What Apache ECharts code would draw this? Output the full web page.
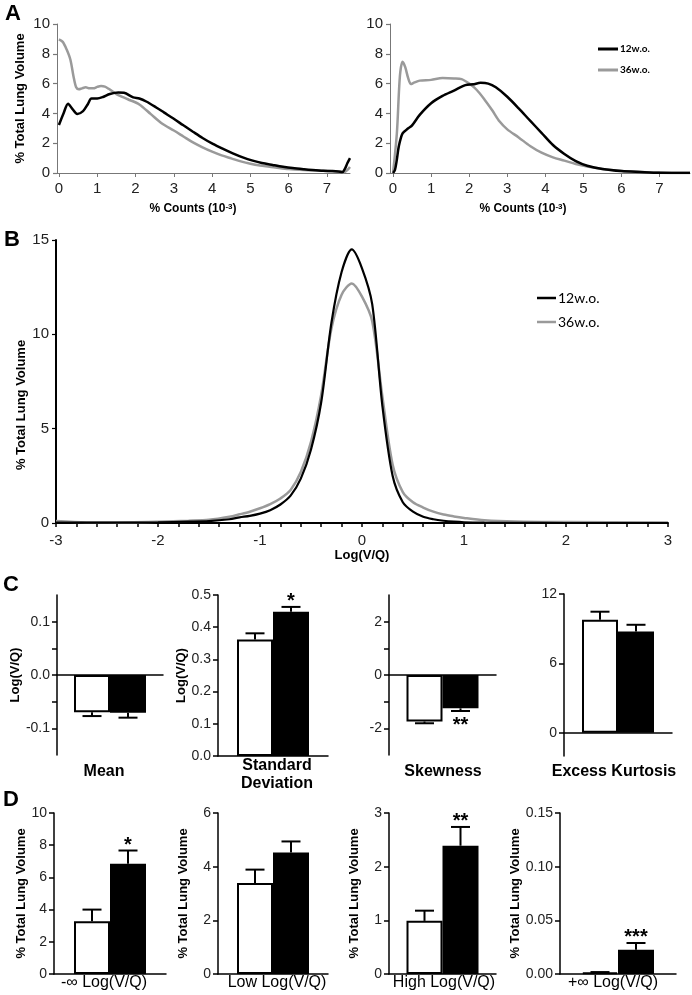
<!DOCTYPE html>
<html>
<head>
<meta charset="utf-8">
<script src="https://cdn.jsdelivr.net/npm/echarts@6/dist/echarts.min.js"></script>
<style>
  html, body { margin: 0; padding: 0; background: #fff; }
  #chart { width: 692px; height: 995px; }
</style>
</head>
<body>
<div id="chart"></div>
<script>
// ---------------- data ----------------
const groups = ['12w.o.', '36w.o.'];

// A left: % lung volume vs % counts
const aLeftX12 = [0, 0.12, 0.24, 0.35, 0.48, 0.63, 0.75, 0.85, 1.0, 1.15, 1.33, 1.55, 1.7, 1.94, 2.1, 2.28, 2.54, 2.75, 2.98, 3.25, 3.5, 3.75, 4.02, 4.3, 4.54, 4.8, 5.06, 5.3, 5.58, 5.85, 6.1, 6.4, 6.62, 6.9, 7.14, 7.3, 7.4, 7.47, 7.53, 7.6];
const aLeftY12 = [3.22, 4.0, 4.65, 4.3, 3.96, 4.15, 4.6, 5.0, 5.0, 5.1, 5.3, 5.4, 5.38, 5.08, 5.0, 4.8, 4.4, 4.05, 3.67, 3.2, 2.77, 2.35, 1.95, 1.6, 1.32, 1.05, 0.83, 0.67, 0.54, 0.42, 0.33, 0.25, 0.2, 0.15, 0.13, 0.1, 0.06, 0.3, 0.65, 1.0];
const aLeftX36 = [0, 0.1, 0.2, 0.3, 0.38, 0.45, 0.52, 0.6, 0.7, 0.8, 0.9, 1.0, 1.1, 1.2, 1.3, 1.5, 1.8, 2.1, 2.4, 2.7, 3.0, 3.25, 3.5, 3.75, 4.0, 4.25, 4.5, 4.75, 5.0, 5.25, 5.5, 5.75, 6.0, 6.5, 7.0, 7.35, 7.45, 7.55, 7.6];
const aLeftY36 = [8.97, 8.8, 8.3, 7.6, 6.5, 5.75, 5.62, 5.68, 5.75, 5.68, 5.68, 5.78, 5.84, 5.8, 5.65, 5.3, 4.95, 4.6, 3.95, 3.3, 2.85, 2.45, 2.05, 1.72, 1.43, 1.18, 0.98, 0.78, 0.62, 0.5, 0.42, 0.33, 0.26, 0.19, 0.13, 0.08, 0.05, 0.25, 0.4];

// A right
const aRightX12 = [0, 0.05, 0.1, 0.15, 0.25, 0.4, 0.5, 0.7, 1.0, 1.3, 1.6, 1.9, 2.1, 2.3, 2.5, 2.7, 3.0, 3.3, 3.6, 3.9, 4.2, 4.5, 4.8, 5.1, 5.5, 6.0, 6.5, 7.0, 7.8];
const aRightY12 = [0, 0.2, 0.9, 1.77, 2.66, 3.0, 3.2, 3.9, 4.68, 5.17, 5.53, 5.9, 5.95, 6.05, 6.0, 5.75, 5.12, 4.34, 3.51, 2.7, 1.88, 1.28, 0.8, 0.49, 0.27, 0.13, 0.07, 0.02, 0.0];
const aRightX36 = [0, 0.1, 0.18, 0.25, 0.32, 0.4, 0.47, 0.55, 0.7, 1.0, 1.3, 1.6, 1.8, 2.0, 2.2, 2.4, 2.6, 2.8, 3.0, 3.3, 3.6, 3.9, 4.2, 4.5, 4.8, 5.1, 5.5, 6.0, 6.5, 7.0, 7.8];
const aRightY36 = [0, 2.66, 6.5, 7.47, 7.1, 6.35, 5.97, 6.06, 6.2, 6.25, 6.38, 6.35, 6.3, 6.0, 5.57, 4.94, 4.23, 3.45, 2.93, 2.39, 1.81, 1.36, 1.05, 0.83, 0.6, 0.43, 0.27, 0.13, 0.07, 0.03, 0.02];
const aTicks = [0, 1, 2, 3, 4, 5, 6, 7];

// B: % lung volume vs Log(V/Q)
const bX12 = [-3.0, -2.5, -2.0, -1.7, -1.5, -1.3, -1.2, -1.1, -1.0, -0.9, -0.8, -0.7, -0.6, -0.5, -0.4, -0.3, -0.2, -0.1, 0.0, 0.1, 0.2, 0.3, 0.4, 0.5, 0.6, 0.7, 0.8, 0.9, 1.0, 1.2, 1.5, 2.0, 3.0];
const bY12 = [0.02, 0.02, 0.04, 0.07, 0.1, 0.2, 0.3, 0.38, 0.5, 0.68, 0.98, 1.45, 2.35, 3.9, 6.4, 10.6, 13.3, 14.5, 13.5, 11.6, 6.2, 2.5, 1.1, 0.6, 0.33, 0.2, 0.12, 0.07, 0.04, 0.02, 0.01, 0.0, 0.0];
const bX36 = [-3.0, -2.7, -2.5, -2.0, -1.7, -1.5, -1.3, -1.2, -1.1, -1.0, -0.9, -0.8, -0.7, -0.6, -0.5, -0.4, -0.3, -0.2, -0.1, 0.0, 0.1, 0.2, 0.3, 0.4, 0.5, 0.6, 0.7, 0.8, 0.9, 1.0, 1.2, 1.5, 2.0, 3.0];
const bY36 = [0.1, 0.03, 0.03, 0.07, 0.12, 0.17, 0.33, 0.46, 0.6, 0.78, 1.0, 1.3, 1.75, 2.7, 4.3, 6.8, 10.3, 12.1, 12.7, 12.0, 10.7, 6.7, 3.1, 1.64, 1.1, 0.82, 0.6, 0.45, 0.35, 0.27, 0.15, 0.08, 0.05, 0.03];
const bTicks = [-3, -2, -1, 0, 1, 2, 3];

// C: distribution moments (mean +/- SEM)
const cStats = ['Mean', 'Standard\nDeviation', 'Skewness', 'Excess Kurtosis'];
const cMean12 = [-0.070, 0.362, -1.745, 9.77];
const cErr12 = [0.007, 0.019, 0.065, 0.7];
const cMean36 = [-0.071, 0.448, -1.25, 8.76];
const cErr36 = [0.009, 0.015, 0.10, 0.58];
const cSig = ['', '*', '**', ''];

// D: % lung volume in V/Q bins (mean +/- SEM)
const dBins = ['-\u221e Log(V/Q)', 'Low Log(V/Q)', 'High Log(V/Q)', '+\u221e Log(V/Q)'];
const dMean12 = [3.27, 3.39, 0.99, 0.0015];
const dErr12 = [0.73, 0.5, 0.19, 0.0003];
const dMean36 = [6.85, 4.53, 2.39, 0.0227];
const dErr36 = [0.82, 0.41, 0.35, 0.0062];
const dSig = ['*', '', '**', '***'];

// ---------------- chart ----------------
const FONT = '"Liberation Sans", Arial, sans-serif';
const zip = (xs, ys) => xs.map((x, i) => [x, ys[i]]);

const chart = echarts.init(document.getElementById('chart'));
const grid = [], xAxis = [], yAxis = [], series = [];

// line panels (A, B)
function curveAxis(i, min, max, extra, lineColor, lineWidth, fontSize) {
    return Object.assign({
        gridIndex: i, type: 'value', min: min, max: max,
        splitLine: { show: false },
        axisLine: { show: true, onZero: false, lineStyle: { color: lineColor, width: lineWidth } },
        axisTick: { show: true, length: 4, lineStyle: { color: lineColor, width: 1.2 } },
        axisLabel: { fontSize: fontSize, color: '#222', fontFamily: FONT, margin: 7 }
    }, extra);
}
function curve(i, name, data, color, width) {
    series.push({
        name: name, type: 'line', xAxisIndex: i, yAxisIndex: i, data: data,
        showSymbol: false, smooth: 0.3, color: color,
        lineStyle: { color: color, width: width }
    });
}

// A1
grid.push({ left: 57, top: 24, width: 293, height: 149 });
xAxis.push(curveAxis(0, -0.05, 7.6, {
    axisLabel: { customValues: aTicks, fontSize: 15, color: '#222', fontFamily: FONT, margin: 8 },
    axisTick: { customValues: aTicks, length: 4, lineStyle: { color: '#777' } }
}, '#777', 1, 15));
yAxis.push(curveAxis(0, 0, 10, {
    interval: 2, name: '% Total Lung Volume', nameLocation: 'middle', nameGap: 30,
    nameTextStyle: { fontSize: 13, fontWeight: 'bold', fontFamily: FONT, color: '#000' }
}, '#777', 1, 15));
curve(0, groups[1], zip(aLeftX36, aLeftY36), '#9a9a9a', 2.5);
curve(0, groups[0], zip(aLeftX12, aLeftY12), '#000', 2.5);

// A2
grid.push({ left: 390, top: 24, width: 300, height: 149 });
xAxis.push(curveAxis(1, -0.08, 7.8, {
    axisLabel: { customValues: aTicks, fontSize: 15, color: '#222', fontFamily: FONT, margin: 8 },
    axisTick: { customValues: aTicks, length: 4, lineStyle: { color: '#777' } }
}, '#777', 1, 15));
yAxis.push(curveAxis(1, 0, 10, { interval: 2 }, '#777', 1, 15));
curve(1, groups[1], zip(aRightX36, aRightY36), '#9a9a9a', 2.5);
curve(1, groups[0], zip(aRightX12, aRightY12), '#000', 2.5);

// B
grid.push({ left: 56, top: 240, width: 612, height: 283 });
xAxis.push(curveAxis(2, -3, 3, {
    interval: 0.2,
    name: 'Log(V/Q)', nameLocation: 'middle', nameGap: 26,
    nameTextStyle: { fontSize: 13, fontWeight: 'bold', fontFamily: FONT, color: '#000' },
    axisLabel: { customValues: bTicks, fontSize: 15, color: '#222', fontFamily: FONT, margin: 10 },
    axisTick: { length: 4, lineStyle: { color: '#000', width: 1.5 } }
}, '#000', 2, 15));
yAxis.push(curveAxis(2, 0, 15, { interval: 5 }, '#000', 2, 15));
curve(2, groups[1], zip(bX36, bY36), '#9a9a9a', 2.5);
curve(2, groups[0], zip(bX12, bY12), '#000', 2.2);

// bar panels (C, D)
function errRender(sigs) {
    return function (params, api) {
        const cat = api.value(0), m = api.value(1), e = api.value(2), off = api.value(3);
        const sgn = m < 0 ? -1 : 1;
        const p0 = api.coord([cat, m]);
        const p1 = api.coord([cat, m + sgn * e]);
        const x = p0[0] + off;
        const children = [
            { type: 'line', shape: { x1: x, y1: p0[1], x2: x, y2: p1[1] }, style: { stroke: '#000', lineWidth: 2 } },
            { type: 'line', shape: { x1: x - 9.5, y1: p1[1], x2: x + 9.5, y2: p1[1] }, style: { stroke: '#000', lineWidth: 2 } }
        ];
        const s = sigs[params.dataIndex];
        if (s) {
            children.push({
                type: 'text',
                style: {
                    text: s, x: x, y: sgn > 0 ? p1[1] - 5 : p1[1] + 14,
                    align: 'center', verticalAlign: 'middle',
                    font: 'bold 20px ' + FONT, fill: '#000'
                }
            });
        }
        return { type: 'group', children: children };
    };
}

function barPanel(i, g, stat, yConf, yName, nameGap, labelCfg, m12, e12, m36, e36, sig) {
    grid.push(g);
    xAxis.push({
        gridIndex: i, type: 'category', data: [stat],
        axisLine: { onZero: true, lineStyle: { color: '#000', width: 1.5 } },
        axisTick: { show: false }, axisLabel: { show: false }
    });
    yAxis.push(Object.assign({
        gridIndex: i, type: 'value',
        splitLine: { show: false },
        axisLine: { show: true, lineStyle: { color: '#000', width: 1.5 } },
        axisTick: Object.assign({ show: true, length: 5, lineStyle: { color: '#000', width: 1.5 } }, labelCfg.tick || {}),
        axisLabel: Object.assign({ fontSize: 14, color: '#222', fontFamily: FONT, margin: 7 }, labelCfg.label || {}),
        name: yName, nameLocation: 'middle', nameGap: nameGap,
        nameTextStyle: { fontSize: 13, fontWeight: 'bold', fontFamily: FONT, color: '#000' }
    }, yConf));
    series.push({
        name: groups[0] + ' ' + stat, type: 'bar', xAxisIndex: i, yAxisIndex: i, data: [m12],
        barWidth: 36, barGap: '0%', itemStyle: { color: '#fff', borderColor: '#000', borderWidth: 2 }
    });
    series.push({
        name: groups[1] + ' ' + stat, type: 'bar', xAxisIndex: i, yAxisIndex: i, data: [m36],
        barWidth: 36, barGap: '0%', itemStyle: { color: '#000', borderColor: '#000', borderWidth: 2 }
    });
    series.push({
        type: 'custom', xAxisIndex: i, yAxisIndex: i, z: 5,
        encode: { x: 0, y: 1 },
        data: [[0, m12, e12, -18], [0, m36, e36, 18]],
        renderItem: errRender(['', sig])
    });
}

const fix = n => v => v.toFixed(n);

// C panels
barPanel(3, { left: 57, top: 595, width: 106, height: 160 }, cStats[0],
    { min: -0.15, max: 0.15 }, 'Log(V/Q)', 31,
    { label: { customValues: [-0.1, 0, 0.1], formatter: fix(1) }, tick: { customValues: [-0.1, -0.05, 0, 0.05, 0.1] } },
    cMean12[0], cErr12[0], cMean36[0], cErr36[0], cSig[0]);
barPanel(4, { left: 218, top: 595, width: 110, height: 161 }, cStats[1],
    { min: 0, max: 0.5, interval: 0.1 }, 'Log(V/Q)', 25,
    { label: { formatter: fix(1) } },
    cMean12[1], cErr12[1], cMean36[1], cErr36[1], cSig[1]);
barPanel(5, { left: 389, top: 595, width: 107, height: 160 }, cStats[2],
    { min: -3, max: 3 }, '', 0,
    { label: { customValues: [-2, 0, 2] }, tick: { customValues: [-2, -1, 0, 1, 2] } },
    cMean12[2], cErr12[2], cMean36[2], cErr36[2], cSig[2]);
barPanel(6, { left: 564, top: 594, width: 108, height: 162 }, cStats[3],
    { min: -2, max: 12 }, '', 0,
    { label: { customValues: [0, 6, 12] }, tick: { customValues: [0, 6, 12] } },
    cMean12[3], cErr12[3], cMean36[3], cErr36[3], cSig[3]);

// D panels
barPanel(7, { left: 54, top: 813, width: 112, height: 161 }, dBins[0],
    { min: 0, max: 10, interval: 2 }, '% Total Lung Volume', 25, {},
    dMean12[0], dErr12[0], dMean36[0], dErr36[0], dSig[0]);
barPanel(8, { left: 218, top: 813, width: 110, height: 161 }, dBins[1],
    { min: 0, max: 6, interval: 2 }, '% Total Lung Volume', 28, {},
    dMean12[1], dErr12[1], dMean36[1], dErr36[1], dSig[1]);
barPanel(9, { left: 389, top: 813, width: 107, height: 161 }, dBins[2],
    { min: 0, max: 3, interval: 1 }, '% Total Lung Volume', 28, {},
    dMean12[2], dErr12[2], dMean36[2], dErr36[2], dSig[2]);
barPanel(10, { left: 560, top: 813, width: 116, height: 161 }, dBins[3],
    { min: 0, max: 0.15, interval: 0.05 }, '% Total Lung Volume', 31,
    { label: { formatter: fix(2) } },
    dMean12[3], dErr12[3], dMean36[3], dErr36[3], dSig[3]);

// free text
function txt(x, y, text, font, extra) {
    return Object.assign({
        type: 'text', x: x, y: y,
        style: { text: text, font: font, fill: '#000', align: 'center', verticalAlign: 'middle' }
    }, extra || {});
}
const letterFont = 'bold 22px ' + FONT;
const catFont = 'bold 16px ' + FONT;
const binFont = '16px ' + FONT;
const countsTitle = {
    type: 'text',
    style: {
        text: '{a|% Counts (10}{b|-3}{a|)}', align: 'center', verticalAlign: 'middle',
        rich: {
            a: { fontSize: 12, fontWeight: 'bold', fontFamily: FONT, fill: '#000' },
            b: { fontSize: 8, fontWeight: 'bold', fontFamily: FONT, fill: '#000', verticalAlign: 'top' }
        }
    }
};
const graphic = [
    txt(13, 14, 'A', letterFont),
    txt(12, 240, 'B', letterFont),
    txt(11, 585, 'C', letterFont),
    txt(11, 800, 'D', letterFont),
    Object.assign({ x: 193, y: 209 }, JSON.parse(JSON.stringify(countsTitle))),
    Object.assign({ x: 523, y: 209 }, JSON.parse(JSON.stringify(countsTitle))),
    txt(21, 405, '% Total Lung Volume', 'bold 13px ' + FONT, { rotation: Math.PI / 2 }),
    txt(104, 772, cStats[0], catFont),
    txt(277, 775, cStats[1], catFont, { style: { text: cStats[1], font: catFont, fill: '#000', align: 'center', verticalAlign: 'middle', lineHeight: 18 } }),
    txt(443, 772, cStats[2], catFont),
    txt(614, 772, cStats[3], catFont),
    txt(104, 983, dBins[0], binFont),
    txt(277, 983, dBins[1], binFont),
    txt(444, 983, dBins[2], binFont),
    txt(613, 983, dBins[3], binFont)
];

const options = {
    animation: false,
    backgroundColor: '#fff',
    legend: [
        {
            data: groups, left: 593, top: 39, orient: 'vertical', icon: 'rect',
            itemWidth: 20, itemHeight: 3, itemGap: 11, selectedMode: false,
            textStyle: { fontSize: 10, fontWeight: 'bold', fontFamily: 'Lato, "Open Sans", sans-serif', color: '#000', padding: [0, 0, 0, -3] }
        },
        {
            data: groups, left: 532, top: 286, orient: 'vertical', icon: 'rect',
            itemWidth: 19, itemHeight: 2.5, itemGap: 10, selectedMode: false,
            textStyle: { fontSize: 14, fontFamily: 'Lato, "Open Sans", sans-serif', color: '#000', padding: [0, 0, 0, -3] }
        }
    ],
    grid: grid,
    xAxis: xAxis,
    yAxis: yAxis,
    series: series,
    graphic: graphic
};
chart.setOption(options);
</script>
</body>
</html>
